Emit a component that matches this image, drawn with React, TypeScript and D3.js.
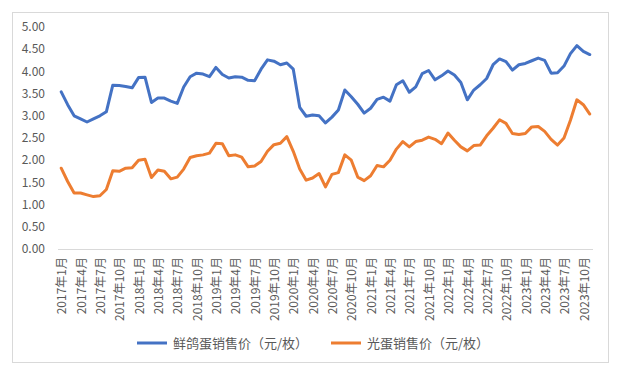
import React from "react";
import * as d3 from "d3";

const startYear = 2017;
const monthCount = 83; // 2017年1月 — 2023年11月

const pigeonEggPrice: number[] = [
  3.54, 3.25, 3.0, 2.93, 2.86, 2.93, 3.0, 3.09, 3.69, 3.68,
  3.66, 3.63, 3.86, 3.87, 3.3, 3.4, 3.4, 3.33, 3.28, 3.65,
  3.88, 3.96, 3.94, 3.88, 4.09, 3.93, 3.85, 3.88, 3.87, 3.8,
  3.79, 4.05, 4.26, 4.23, 4.15, 4.19, 4.05, 3.19, 2.99, 3.02,
  3.0, 2.84, 2.97, 3.13, 3.58, 3.43, 3.26, 3.06, 3.17, 3.37,
  3.42, 3.33, 3.7, 3.79, 3.53, 3.65, 3.95, 4.02, 3.81, 3.9,
  4.01, 3.92, 3.75, 3.36, 3.58, 3.7, 3.84, 4.15, 4.28, 4.22,
  4.03, 4.15, 4.18, 4.24, 4.3, 4.25, 3.96, 3.97, 4.12, 4.4,
  4.58, 4.45, 4.38,
];

const plainEggPrice: number[] = [
  1.82, 1.52, 1.26, 1.26, 1.22, 1.18, 1.2, 1.34, 1.76, 1.75,
  1.82, 1.83, 2.0, 2.02, 1.61, 1.78, 1.75, 1.58, 1.62, 1.8,
  2.06, 2.1, 2.12, 2.16, 2.38, 2.37, 2.1, 2.12, 2.07, 1.85,
  1.87, 1.97, 2.2, 2.35, 2.38, 2.53, 2.2, 1.8, 1.55, 1.6,
  1.7, 1.4, 1.68, 1.72, 2.12, 2.0, 1.62, 1.54, 1.65, 1.88,
  1.85, 2.0, 2.25, 2.42, 2.3, 2.42, 2.45, 2.52, 2.47, 2.37,
  2.61, 2.45, 2.3, 2.21, 2.33, 2.34, 2.55, 2.72, 2.91, 2.83,
  2.6, 2.58, 2.6, 2.75, 2.76, 2.65, 2.47, 2.34, 2.5, 2.9,
  3.36, 3.25, 3.04,
];

const seriesNames = ["鲜鸽蛋销售价（元/枚）", "光蛋销售价（元/枚）"];
const seriesColors = ["#4472C4", "#ED7D31"];
const yTicks = [0, 0.5, 1, 1.5, 2, 2.5, 3, 3.5, 4, 4.5, 5];

const monthLabels: string[] = d3.range(monthCount).map((i) => {
  const y = startYear + Math.floor(i / 12);
  const m = (i % 12) + 1;
  return `${y}年${m}月`;
});

const FONT = "'Noto Sans CJK SC', 'Noto Sans', sans-serif";
const TEXT = "#595959";

export default function App() {
  const W = 622;
  const H = 377;
  const x = d3
    .scalePoint<number>()
    .domain(d3.range(monthCount))
    .range([58, 593])
    .padding(0.5);
  const y = d3.scaleLinear().domain([0, 5]).range([249, 27]);

  const line = d3
    .line<number>()
    .x((_, i) => x(i) as number)
    .y((d) => y(d));

  const series = [pigeonEggPrice, plainEggPrice];
  const labelIdx = d3.range(0, monthCount, 3);

  return (
    <svg
      width={W}
      height={H}
      style={{ position: "absolute", left: 0, top: 0, background: "#fff" }}
      fontFamily={FONT}
    >
      <rect x={0} y={0} width={W} height={H} fill="#fff" />
      <rect x={12.5} y={12.5} width={596} height={350} fill="none" stroke="#d9d9d9" strokeWidth={1} />
      {yTicks.map((t) => (
        <text
          key={t}
          x={45}
          y={y(t)}
          dy="0.35em"
          textAnchor="end"
          fontSize={12}
          fill={TEXT}
        >
          {t.toFixed(2)}
        </text>
      ))}
      <line x1={58} x2={593} y1={y(0) + 0.5} y2={y(0) + 0.5} stroke="#d9d9d9" strokeWidth={1} />
      {labelIdx.map((i) => (
        <text
          key={i}
          transform={`translate(${(x(i) as number) + 1},257) rotate(-90)`}
          dy="0.35em"
          textAnchor="end"
          fontSize={12}
          fill={TEXT}
        >
          {monthLabels[i]}
        </text>
      ))}
      {series.map((s, k) => (
        <path
          key={k}
          d={line(s) || ""}
          fill="none"
          stroke={seriesColors[k]}
          strokeWidth={3}
          strokeLinejoin="round"
          strokeLinecap="round"
        />
      ))}
      {[0, 1].map((k) => {
        const lx = k === 0 ? 137 : 331;
        return (
          <g key={k}>
            <line x1={lx} x2={lx + 30} y1={343} y2={343} stroke={seriesColors[k]} strokeWidth={3} />
            <text x={lx + 36} y={343} dy="0.35em" fontSize={13} fill={TEXT}>
              {seriesNames[k]}
            </text>
          </g>
        );
      })}
    </svg>
  );
}
